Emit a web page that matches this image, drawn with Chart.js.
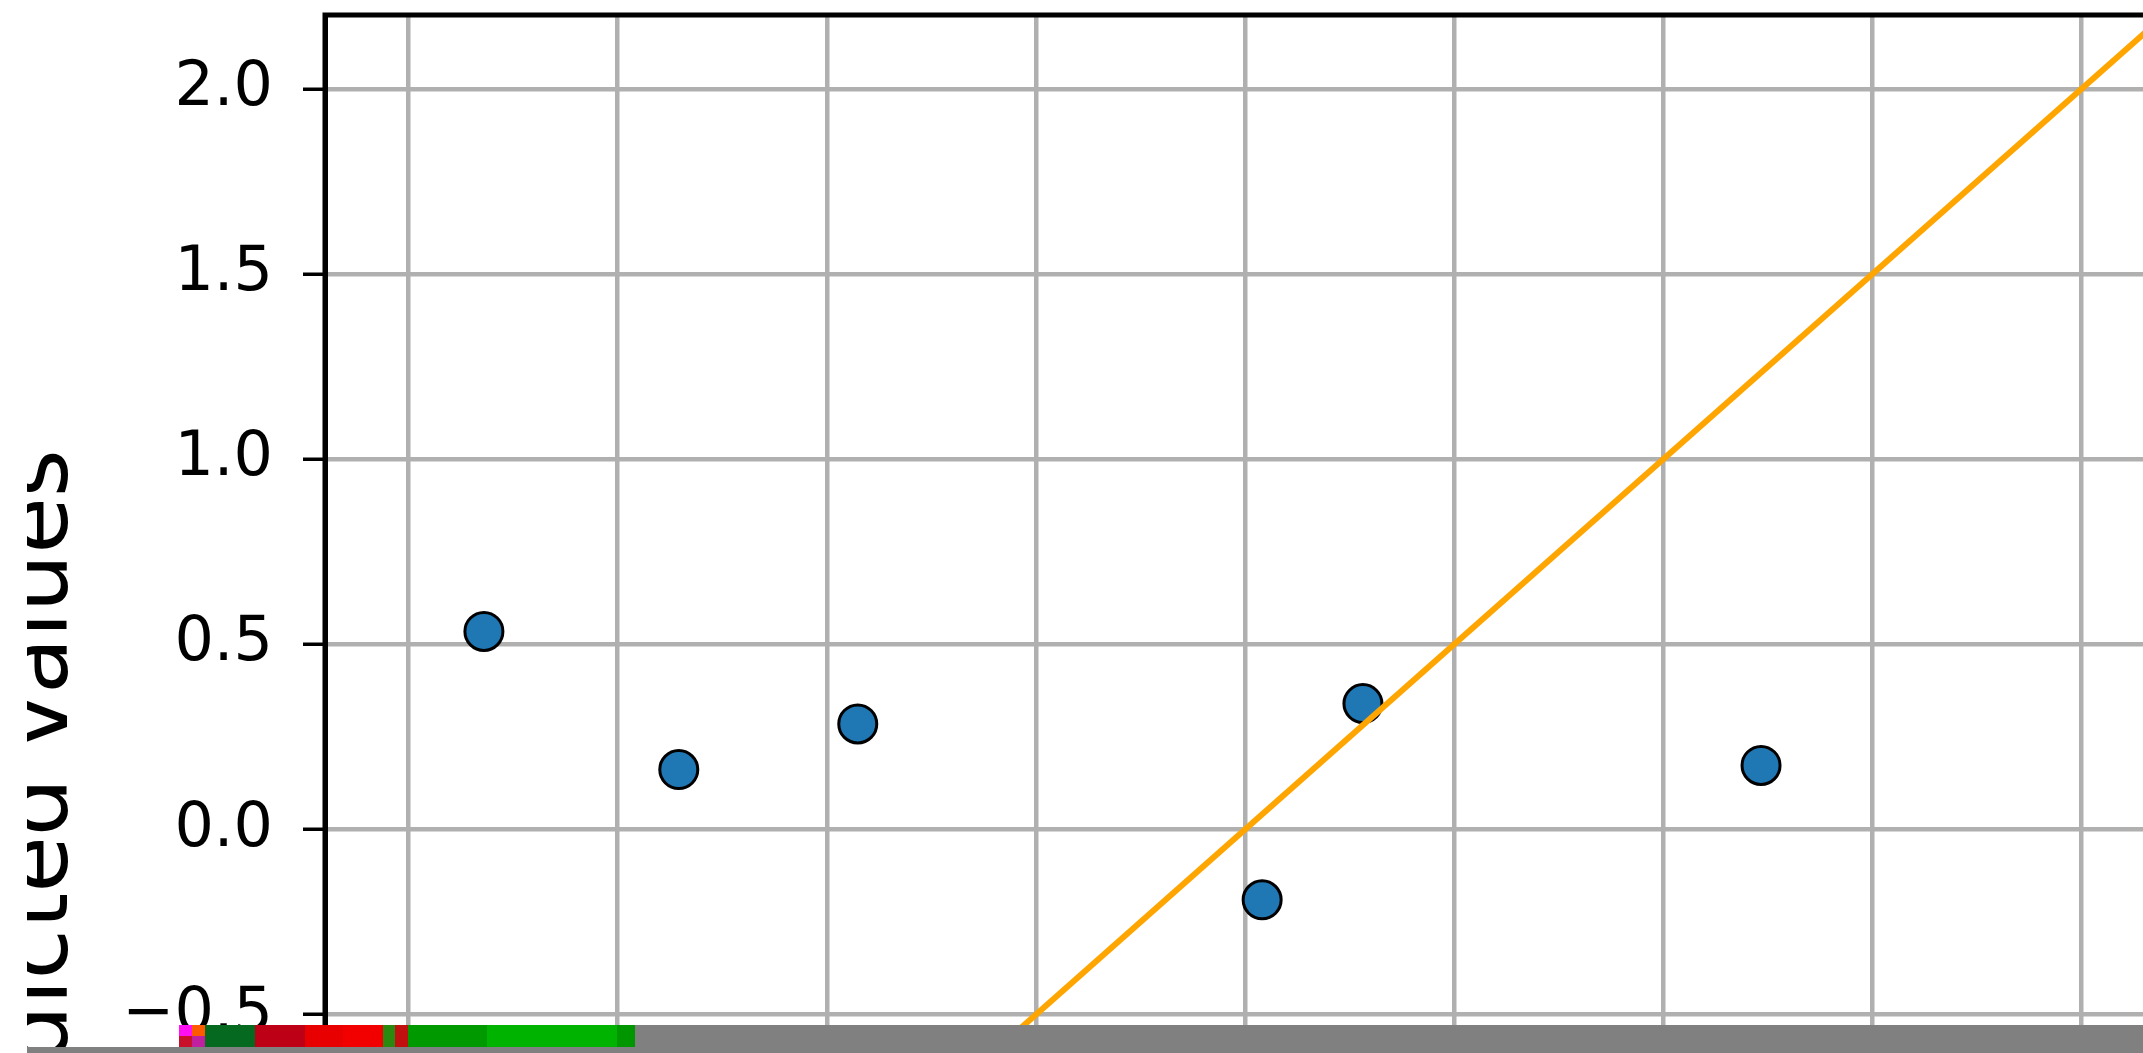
<!DOCTYPE html>
<html>
<head>
<meta charset="utf-8">
<script src="https://cdn.jsdelivr.net/npm/chart.js@4.4.1/dist/chart.umd.min.js"></script>
<style>
    html, body { margin: 0; padding: 0; background: #fff; overflow: hidden; }
    body { width: 2143px; height: 1053px; position: relative; }
    #plot { position: absolute; left: 0; top: 0; }
    .band { position: absolute; }
</style>
</head>
<body>
<canvas id="plot" width="2200" height="1800"></canvas>

<!-- the reference is a cropped, partly broken image: white left edge, grey unloaded strip at the bottom -->
<div class="band" style="left:0;top:0;width:27px;height:1053px;background:#fff"></div>
<div class="band" style="left:635px;top:1025px;width:1508px;height:28px;background:#808080"></div>
<div class="band" style="left:27px;top:1047px;width:2116px;height:6px;background:#808080"></div>
<div class="band" style="left:179px;top:1025px;width:13px;height:11px;background:#ff10f0"></div>
<div class="band" style="left:179px;top:1036px;width:13px;height:11px;background:#c8102a"></div>
<div class="band" style="left:192px;top:1025px;width:13px;height:11px;background:#ff5a00"></div>
<div class="band" style="left:192px;top:1036px;width:13px;height:11px;background:#c020a0"></div>
<div class="band" style="left:205px;top:1025px;width:50px;height:22px;background:#056a20"></div>
<div class="band" style="left:255px;top:1025px;width:50px;height:22px;background:#be0016"></div>
<div class="band" style="left:305px;top:1025px;width:38px;height:22px;background:#e80000"></div>
<div class="band" style="left:343px;top:1025px;width:40px;height:22px;background:#f20000"></div>
<div class="band" style="left:383px;top:1025px;width:12px;height:22px;background:#2a8a10"></div>
<div class="band" style="left:395px;top:1025px;width:13px;height:22px;background:#c01010"></div>
<div class="band" style="left:408px;top:1025px;width:79px;height:22px;background:#009a00"></div>
<div class="band" style="left:487px;top:1025px;width:130px;height:22px;background:#00b300"></div>
<div class="band" style="left:617px;top:1025px;width:18px;height:22px;background:#009600"></div>

<script>
// values
const actualValues = [-1.82, -1.354, -0.926, 0.041, 0.282, 1.234];
const predictedValues = [0.535, 0.162, 0.285, -0.19, 0.34, 0.173];
const idealLine = [-2.2, 2.2];
const axisMin = -2.2;
const axisMax = 2.2;
const xTicks = [-2.0, -1.5, -1.0, -0.5, 0.0, 0.5, 1.0, 1.5, 2.0];
const yTicks = [-2.0, -1.5, -1.0, -0.5, 0.0, 0.5, 1.0, 1.5, 2.0];

const fmt = (v) => (v < 0 ? '\u2212' : '') + Math.abs(v).toFixed(1);

// black frame round the plot area, like matplotlib spines
const framePlugin = {
    id: 'frame',
    afterDraw(chart) {
        const { ctx, chartArea: a } = chart;
        ctx.save();
        ctx.strokeStyle = '#000';
        ctx.lineWidth = 5;
        ctx.strokeRect(a.left, a.top, a.right - a.left, a.bottom - a.top);
        ctx.restore();
    }
};

const tickFont = { family: 'DejaVu Sans', size: 62 };

new Chart(document.getElementById('plot'), {
    type: 'scatter',
    data: {
        datasets: [
            {
                type: 'line',
                label: 'ideal',
                data: idealLine.map(v => ({ x: v, y: v })),
                borderColor: '#ffa500',
                borderWidth: 6,
                pointRadius: 0,
                fill: false
            },
            {
                label: 'predictions',
                data: actualValues.map((x, i) => ({ x: x, y: predictedValues[i] })),
                backgroundColor: '#1f77b4',
                borderColor: '#000',
                borderWidth: 3,
                pointRadius: 19,
                pointHoverRadius: 19
            }
        ]
    },
    options: {
        responsive: false,
        devicePixelRatio: 1,
        animation: false,
        events: [],
        layout: { autoPadding: false, padding: { left: 0, top: 15, right: 35, bottom: 36 } },
        plugins: {
            legend: { display: false },
            tooltip: { enabled: false }
        },
        scales: {
            x: {
                type: 'linear',
                min: axisMin,
                max: axisMax,
                afterBuildTicks: (s) => { s.ticks = xTicks.map(v => ({ value: v })); },
                afterFit: (s) => { s.height = 120; s.paddingLeft = 0; s.paddingRight = 0; },
                ticks: { font: tickFont, color: '#000', padding: 30, callback: fmt },
                grid: { color: '#b0b0b0', lineWidth: 4.5, tickColor: '#000', tickWidth: 3.5, tickLength: 22 },
                border: { color: '#000', width: 5 }
            },
            y: {
                type: 'linear',
                min: axisMin,
                max: axisMax,
                afterBuildTicks: (s) => { s.ticks = yTicks.map(v => ({ value: v })); },
                afterFit: (s) => { s.width = 325; s.paddingTop = 0; s.paddingBottom = 0; },
                ticks: { font: tickFont, color: '#000', padding: 30, callback: fmt },
                grid: { color: '#b0b0b0', lineWidth: 4.5, tickColor: '#000', tickWidth: 3.5, tickLength: 22 },
                border: { color: '#000', width: 5 },
                title: {
                    display: true,
                    text: 'Predicted values',
                    color: '#000',
                    padding: 0,
                    font: { family: 'DejaVu Sans', size: 92, lineHeight: 0.94 }
                }
            }
        }
    },
    plugins: [framePlugin]
});
</script>
</body>
</html>
